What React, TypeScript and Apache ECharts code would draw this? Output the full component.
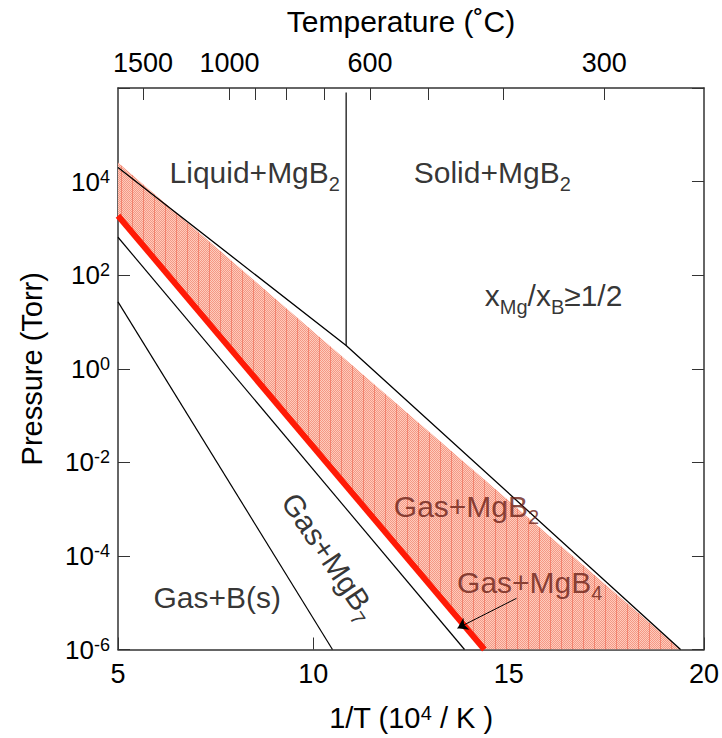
import React, { useEffect, useRef } from 'react';
import * as echarts from 'echarts';

// ---- axes ----
const xMin = 5;
const xMax = 20;
const xInterval = 5;
const pMin = 1e-6;
const pMax = 1e6;
const tempTicksC = [1500, 1000, 900, 800, 700, 600, 500, 400, 300];
const tempLabelsC = [1500, 1000, 600, 300];

// ---- phase boundaries: 1/T (10^4/K) vs pressure (Torr) ----
const upperX = [5, 10.84, 19.4];
const upperP = [2.0e4, 3.13, 1e-6];
const redX = [5, 14.38];
const redP = [1.86e3, 1e-6];
const mgB7X = [5, 13.87];
const mgB7P = [646, 1e-6];
const boronX = [5, 10.49];
const boronP = [26.9, 1e-6];
const meltX = [10.84, 10.84];
const meltP = [8e5, 3.13];
const shadeX = [5, 19.4, 14.38, 5];
const shadeP = [2.57e4, 1e-6, 1e-6, 1.86e3];

// ---- region labels ----
const labelNames = ['liquid', 'solid', 'ratio', 'gasMgB2', 'gasMgB4', 'gasB', 'gasMgB7'];
const labelTexts = [
  '{m|Liquid+MgB}{sub|2}',
  '{m|Solid+MgB}{sub|2}',
  '{m|x}{sub|Mg}{m|/x}{sub|B}{m|≥1/2}',
  '{m|Gas+MgB}{sub|2}',
  '{m|Gas+MgB}{sub|4}',
  '{m|Gas+B(s)}',
  '{m|Gas+MgB}{sub|7}',
];
const labelX = [8.5, 14.58, 16.15, 13.92, 15.54, 7.54, 10.41];
const labelP = [1.55e4, 1.55e4, 35.9, 1.14e-3, 2.72e-5, 1.3e-5, 9.8e-5];
const labelColors = ['#000', '#000', '#000', '#6a2016', '#6a2016', '#000', '#000'];
const labelRotate = [0, 0, 0, 0, 0, 0, -56];

// arrow from Gas+MgB4 label to the thin region
const arrowX = [15.2, 13.69];
const arrowP = [1.24e-5, 2.85e-6];

const FONT = '"Liberation Sans", Arial, Helvetica, sans-serif';
const zip = (xs: number[], ys: number[]) => xs.map((x, i) => [x, ys[i]]);
const toInvT = (c: number) => 1e4 / (c + 273.15);

function makeShadePattern(): any {
  try {
    const c = document.createElement('canvas');
    c.width = 11;
    c.height = 2;
    const ctx = c.getContext('2d');
    if (!ctx) return '#f7a490';
    for (let x = 0; x < 11; x++) {
      for (let y = 0; y < 2; y++) {
        let col: string;
        if (x === 0) col = 'rgb(242,132,112)';
        else col = (x + y) % 2 === 0 ? 'rgb(253,204,190)' : 'rgb(245,152,132)';
        ctx.fillStyle = col;
        ctx.fillRect(x, y, 1, 1);
      }
    }
    return { image: c, repeat: 'repeat' };
  } catch (e) {
    return '#f7a490';
  }
}

export default function App() {
  const ref = useRef<HTMLDivElement>(null);
  useEffect(() => {
    if (!ref.current) return;
    const chart = echarts.init(ref.current, null, { renderer: 'svg' });
    const axisLineStyle = { color: '#333', width: 1.5 };
    const tickStyle = { color: '#333', width: 1 };
    const shadeFill = makeShadePattern();
    const subRich = (color: string) => ({
      m: { fontSize: 30, lineHeight: 33, fontFamily: FONT, color },
      sub: { fontSize: 20, lineHeight: 20, padding: [22, 0, 0, 0], fontFamily: FONT, color },
    });
    const supRich = (size: number) => ({
      b: { fontSize: size, lineHeight: size + 2, fontFamily: FONT, color: '#000' },
      s: { fontSize: Math.round(size * 0.68), lineHeight: 18, padding: [0, 0, 10, 0], fontFamily: FONT, color: '#000' },
    });
    const lineSeries = (xs: number[], ys: number[], color: string, width: number) => ({
      type: 'line',
      data: zip(xs, ys),
      symbol: 'none',
      silent: true,
      lineStyle: { color, width },
      z: 3,
    });
    const option: any = {
      animation: false,
      backgroundColor: '#fff',
      grid: { left: 118, right: 17, top: 88, bottom: 87 },
      xAxis: [
        {
          type: 'value',
          position: 'bottom',
          min: xMin,
          max: xMax,
          interval: xInterval,
          axisLine: { show: true, onZero: false, lineStyle: axisLineStyle },
          axisTick: { show: true, inside: true, length: 12, lineStyle: tickStyle },
          axisLabel: { fontSize: 27, margin: 11, color: '#000', fontFamily: FONT },
          splitLine: { show: false },
          name: '{b|1/T (10}{s|4}{b| / K )}',
          nameLocation: 'middle',
          nameGap: 53,
          nameTextStyle: { rich: supRich(29) },
        },
        {
          type: 'value',
          position: 'top',
          min: xMin,
          max: xMax,
          axisLine: { show: true, onZero: false, lineStyle: axisLineStyle },
          axisTick: {
            show: true,
            inside: true,
            length: 12,
            lineStyle: tickStyle,
            customValues: tempTicksC.map(toInvT),
          },
          axisLabel: {
            fontSize: 27,
            margin: 12,
            color: '#000',
            fontFamily: FONT,
            customValues: tempLabelsC.map(toInvT),
            formatter: (v: number) => String(Math.round(1e4 / v - 273.15)),
          },
          splitLine: { show: false },
          name: 'Temperature (˚C)',
          nameLocation: 'middle',
          nameGap: 52,
          nameTextStyle: { fontSize: 30, color: '#000', fontFamily: FONT, padding: [0, 20, 0, 0] },
        },
      ],
      yAxis: [
        {
          type: 'log',
          logBase: 10,
          min: pMin,
          max: pMax,
          interval: 2,
          position: 'left',
          axisLine: { show: true, onZero: false, lineStyle: axisLineStyle },
          axisTick: { show: true, inside: true, length: 12, lineStyle: tickStyle },
          axisLabel: {
            margin: 8,
            formatter: (v: number) => {
              const e = Math.round(Math.log10(v));
              if (e === 6) return '';
              return `{b|10}{s|${e}}`;
            },
            rich: supRich(26),
          },
          minorTick: { show: false },
          splitLine: { show: false },
          name: 'Pressure (Torr)',
          nameLocation: 'middle',
          nameGap: 72,
          nameTextStyle: { fontSize: 29, color: '#000', fontFamily: FONT },
        },
        {
          type: 'log',
          logBase: 10,
          min: pMin,
          max: pMax,
          interval: 2,
          position: 'right',
          axisLine: { show: true, onZero: false, lineStyle: axisLineStyle },
          axisTick: { show: true, inside: true, length: 12, lineStyle: tickStyle },
          axisLabel: { show: false },
          splitLine: { show: false },
        },
      ],
      series: [
        {
          type: 'custom',
          silent: true,
          clip: true,
          z: 1,
          data: [[shadeX[0], shadeP[0]]],
          renderItem: (_params: any, api: any) => {
            const pts = shadeX.map((x, i) => api.coord([x, shadeP[i]]));
            return {
              type: 'polygon',
              shape: { points: pts },
              style: { fill: shadeFill, stroke: 'none' },
            };
          },
        },
        lineSeries(upperX, upperP, '#000', 1.3),
        lineSeries(mgB7X, mgB7P, '#000', 1.2),
        lineSeries(boronX, boronP, '#000', 1.2),
        lineSeries(meltX, meltP, '#000', 1.2),
        { ...lineSeries(redX, redP, '#ff1a06', 6), z: 4 },
        {
          type: 'lines',
          coordinateSystem: 'cartesian2d',
          silent: true,
          z: 5,
          symbol: ['none', 'arrow'],
          symbolSize: 10,
          lineStyle: { color: '#000', width: 1, opacity: 1 },
          data: [{ coords: zip(arrowX, arrowP) }],
        },
        {
          type: 'scatter',
          silent: true,
          symbolSize: 1,
          z: 6,
          itemStyle: { color: 'rgba(0,0,0,0)' },
          data: labelNames.map((name, i) => ({
            name,
            value: [labelX[i], labelP[i]],
            label: {
              show: true,
              position: 'inside',
              formatter: labelTexts[i],
              rotate: labelRotate[i],
              rich: subRich(labelColors[i]),
            },
          })),
        },
      ],
    };
    chart.setOption(option);
    return () => chart.dispose();
  }, []);
  return <div ref={ref} style={{ position: 'absolute', left: 0, top: 0, width: 722, height: 738 }} />;
}
